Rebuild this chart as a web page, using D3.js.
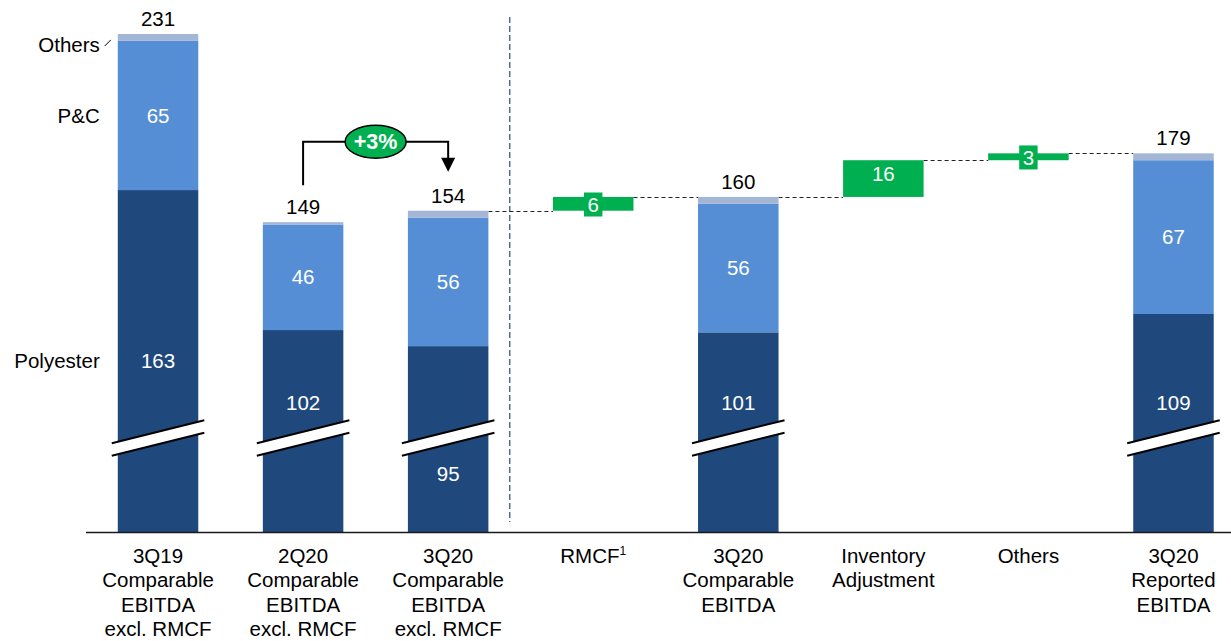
<!DOCTYPE html>
<html>
<head>
<meta charset="utf-8">
<script src="https://cdn.jsdelivr.net/npm/d3@7"></script>
<style>
  body { margin: 0; background: #fff; }
  svg { display: block; font-family: "Liberation Sans", Arial, sans-serif; }
</style>
</head>
<body>
<svg id="chart" width="1231" height="641"></svg>
<script>
// ---- Data (EUR m) ----
const categories = [
  "3Q19 Comparable EBITDA excl. RMCF",
  "2Q20 Comparable EBITDA excl. RMCF",
  "3Q20 Comparable EBITDA excl. RMCF",
  "RMCF",
  "3Q20 Comparable EBITDA",
  "Inventory Adjustment",
  "Others",
  "3Q20 Reported EBITDA"
];
const categoryLines = [
  ["3Q19", "Comparable", "EBITDA", "excl. RMCF"],
  ["2Q20", "Comparable", "EBITDA", "excl. RMCF"],
  ["3Q20", "Comparable", "EBITDA", "excl. RMCF"],
  ["RMCF"],
  ["3Q20", "Comparable", "EBITDA"],
  ["Inventory", "Adjustment"],
  ["Others"],
  ["3Q20", "Reported", "EBITDA"]
];
const footnoteMarks = [null, null, null, "1", null, null, null, null];
const barKinds  = ["total", "total", "total", "delta", "total", "delta", "delta", "total"];
const polyester = [163, 102, 95, null, 101, null, null, 109];
const pAndC     = [65, 46, 56, null, 56, null, null, 67];
const totals    = [231, 149, 154, null, 160, null, null, 179];
const deltas    = [null, null, null, 6, null, 16, 3, null];
const segmentNames = ["Polyester", "P&C", "Others"];
const growthLabel = "+3%";
const growthFrom = 1, growthTo = 2;

// ---- Layout / style ----
const segColors = ["#1F497D", "#558ED5", "#A3B6D6"];
const green = "#00B050";
const polyLabelPlacement = ["mid", "above", "below", null, "above", null, null, "above"];
const baseY = 532, topY = 34;
const breakRise = 94;          // break mark height above the baseline (axis is cut)
const fontSize = 20.5;

const svg = d3.select("#chart");

const x = d3.scaleBand()
  .domain(categories)
  .range([85.5, 1246])
  .paddingInner(0.445)
  .paddingOuter(0.2225);
const bw = x.bandwidth();

// broken value axis: lower part of every stacked bar is cut away
const y = d3.scaleLinear()
  .domain([14, d3.max(totals)])
  .range([baseY, topY])
  .clamp(true);

// ---- Build bar rows ----
let running = 0;
const rows = categories.map((c, i) => {
  const r = { c, i, kind: barKinds[i] };
  if (r.kind === "total") {
    const vals = [polyester[i], pAndC[i], totals[i] - polyester[i] - pAndC[i]];
    let acc = 0;
    r.segs = vals.map((v, k) => {
      const s = { name: segmentNames[k], v, y0: acc, y1: acc + v, color: segColors[k] };
      acc += v;
      return s;
    });
    r.start = 0; r.end = totals[i];
    running = totals[i];
  } else {
    r.start = running;
    r.end = running + deltas[i];
    running = r.end;
  }
  return r;
});

// ---- Separator between YoY block and bridge ----
const sepX = x(categories[2]) + bw + (x.step() - bw) * 0.33;
svg.append("line")
  .attr("x1", sepX).attr("x2", sepX)
  .attr("y1", 17).attr("y2", 522)
  .attr("stroke", "#4F6B8F").attr("stroke-width", 1.5)
  .attr("stroke-dasharray", "6,3");

// ---- Connectors ----
for (let i = 0; i < rows.length - 1; i++) {
  const a = rows[i], b = rows[i + 1];
  if (a.kind !== "delta" && b.kind !== "delta") continue;
  const lvl = a.end;
  svg.append("line")
    .attr("x1", x(a.c) + bw).attr("x2", x(b.c))
    .attr("y1", Math.round(y(lvl)) + 0.5).attr("y2", Math.round(y(lvl)) + 0.5)
    .attr("stroke", "#222").attr("stroke-width", 1)
    .attr("stroke-dasharray", "4,3");
}

// ---- Stacked total bars ----
const totalRows = rows.filter(r => r.kind === "total");
const tg = svg.append("g");
totalRows.forEach(r => {
  const g = tg.append("g");
  g.selectAll("rect").data(r.segs).join("rect")
    .attr("x", x(r.c)).attr("width", bw)
    .attr("y", d => y(d.y1))
    .attr("height", d => y(d.y0) - y(d.y1))
    .attr("fill", d => d.color);

  // break mark
  const bx0 = x(r.c) - 6, bx1 = x(r.c) + bw + 6;
  const cx = x(r.c) + bw / 2;
  const slope = 0.25, gap = 12.5;
  const yU = baseY - breakRise - gap / 2;
  const yL = yU + gap;
  const yAt = (y0, xx) => y0 - slope * (xx - cx);
  g.append("polygon")
    .attr("points", [[bx0, yAt(yU, bx0)], [bx1, yAt(yU, bx1)], [bx1, yAt(yL, bx1)], [bx0, yAt(yL, bx0)]].join(" "))
    .attr("fill", "#fff");
  [yU, yL].forEach(yy => {
    g.append("line")
      .attr("x1", bx0).attr("y1", yAt(yy, bx0))
      .attr("x2", bx1).attr("y2", yAt(yy, bx1))
      .attr("stroke", "#000").attr("stroke-width", 2);
  });

  // segment labels
  const polyTop = y(r.segs[0].y1);
  const breakY = baseY - breakRise;
  const place = polyLabelPlacement[r.i];
  const polyY = place === "mid" ? (polyTop + baseY) / 2 : place === "above" ? breakY - 35 : breakY + 36;
  g.append("text")
    .attr("x", cx).attr("y", polyY).attr("dy", "0.35em")
    .attr("text-anchor", "middle").attr("fill", "#fff")
    .attr("font-size", fontSize)
    .text(r.segs[0].v);
  const pc = r.segs[1];
  g.append("text")
    .attr("x", cx).attr("y", (y(pc.y0) + y(pc.y1)) / 2).attr("dy", "0.35em")
    .attr("text-anchor", "middle").attr("fill", "#fff")
    .attr("font-size", fontSize)
    .text(pc.v);
  // total above
  g.append("text")
    .attr("x", cx).attr("y", y(r.end) - 8)
    .attr("text-anchor", "middle").attr("fill", "#000")
    .attr("font-size", fontSize)
    .text(r.end);
  r.polyY = polyY;
});

// ---- Delta (bridge) bars ----
rows.filter(r => r.kind === "delta").forEach(r => {
  const g = svg.append("g");
  const yTop = y(Math.max(r.start, r.end)), yBot = y(Math.min(r.start, r.end));
  g.append("rect")
    .attr("x", x(r.c)).attr("width", bw)
    .attr("y", yTop).attr("height", yBot - yTop)
    .attr("fill", green);
  const cx = x(r.c) + bw / 2;
  const cy = Math.min((yTop + yBot) / 2 + 1, yTop + 14);
  const box = g.append("rect").attr("fill", green);
  const t = g.append("text")
    .attr("x", cx).attr("y", cy).attr("dy", "0.35em")
    .attr("text-anchor", "middle").attr("fill", "#fff")
    .attr("font-size", fontSize)
    .text(deltas[r.i]);
  const bb = t.node().getBBox();
  box.attr("x", bb.x - 3.5).attr("y", bb.y - 0.5)
     .attr("width", bb.width + 7).attr("height", bb.height + 1);
});

// ---- Series names beside the first bar ----
const first = rows[0];
const lx = x(first.c) - 18;
const oSeg = first.segs[2], pSeg = first.segs[1];
const oMid = (y(oSeg.y0) + y(oSeg.y1)) / 2;
svg.append("text")
  .attr("x", lx).attr("y", oMid + 7.5).attr("dy", "0.35em")
  .attr("text-anchor", "end").attr("font-size", fontSize).text(segmentNames[2]);
svg.append("line")
  .attr("x1", x(first.c) - 13).attr("y1", oMid + 8.5)
  .attr("x2", x(first.c) - 7).attr("y2", oMid + 2.5)
  .attr("stroke", "#000").attr("stroke-width", 1);
svg.append("text")
  .attr("x", lx).attr("y", (y(pSeg.y0) + y(pSeg.y1)) / 2).attr("dy", "0.35em")
  .attr("text-anchor", "end").attr("font-size", fontSize).text(segmentNames[1]);
svg.append("text")
  .attr("x", lx).attr("y", first.polyY).attr("dy", "0.35em")
  .attr("text-anchor", "end").attr("font-size", fontSize).text(segmentNames[0]);

// ---- Growth bracket 2Q20 -> 3Q20 ----
const fx = x(categories[growthFrom]) + bw / 2;
const tx = x(categories[growthTo]) + bw / 2;
const bracketY = y(totals[growthTo]) - 69;
const startY = y(totals[growthFrom]) - 37;
const tipY = y(totals[growthTo]) - 39;
const gb = svg.append("g");
gb.append("path")
  .attr("d", `M${fx},${startY}V${bracketY}H${tx}V${tipY - 13}`)
  .attr("fill", "none").attr("stroke", "#000").attr("stroke-width", 2);
gb.append("path")
  .attr("d", `M${tx - 7},${tipY - 14}L${tx + 7},${tipY - 14}L${tx},${tipY}Z`)
  .attr("fill", "#000");
gb.append("ellipse")
  .attr("cx", (fx + tx) / 2).attr("cy", bracketY)
  .attr("rx", 30.5).attr("ry", 16.5)
  .attr("fill", green).attr("stroke", "#000").attr("stroke-width", 1.5);
gb.append("text")
  .attr("x", (fx + tx) / 2).attr("y", bracketY).attr("dy", "0.36em")
  .attr("text-anchor", "middle").attr("fill", "#fff")
  .attr("font-size", 21.5).attr("font-weight", "bold")
  .text(growthLabel);

// ---- Category axis ----
const axis = svg.append("g")
  .attr("transform", `translate(0,${baseY})`)
  .call(d3.axisBottom(x).tickSize(0).tickSizeOuter(0));
axis.select(".domain").attr("stroke", "#1a1a1a").attr("stroke-width", 1.6);
axis.selectAll(".tick text").each(function (d, i) {
  const t = d3.select(this)
    .text(null)
    .attr("y", 0).attr("dy", null)
    .attr("font-size", fontSize)
    .attr("font-family", "'Liberation Sans', Arial, sans-serif")
    .attr("fill", "#000");
  const lines = categoryLines[i];
  lines.forEach((ln, k) => {
    t.append("tspan").attr("x", 0).attr("y", 31 + k * 24.4).text(ln);
    if (k === lines.length - 1 && footnoteMarks[i]) {
      t.append("tspan").attr("dy", -8).attr("font-size", 12).text(footnoteMarks[i]);
    }
  });
});
</script>
</body>
</html>
